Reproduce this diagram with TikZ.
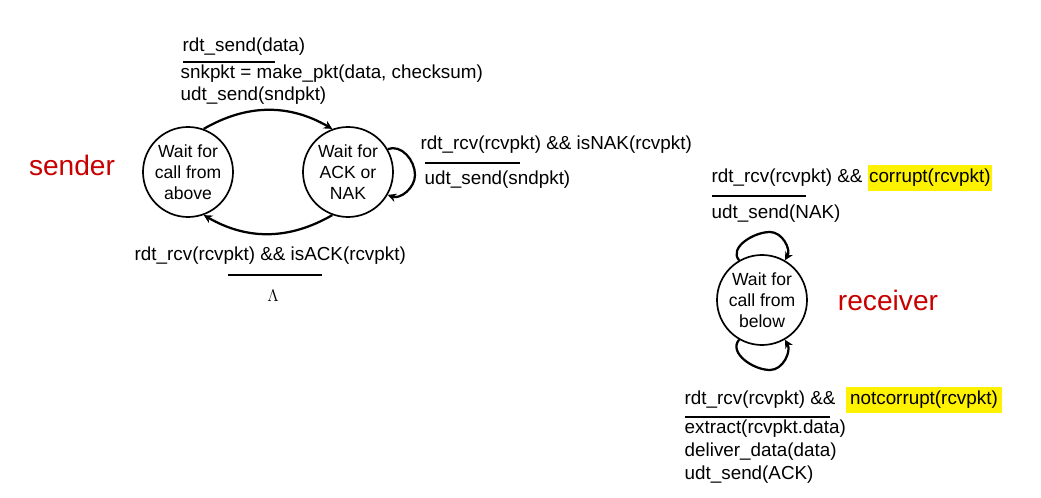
\documentclass[tikz,border=0pt]{standalone}
\usepackage{fontspec}
\setmainfont{Liberation Sans}
\usetikzlibrary{arrows.meta}
\begin{document}
\begin{tikzpicture}[x=0.025cm,y=-0.025cm,
  st/.style={circle,draw,line width=1.2pt,minimum size=2.25cm,align=center,font=\fontsize{12.5}{15}\selectfont,inner sep=0pt},
  lb/.style={anchor=west,font=\fontsize{13.4}{15}\selectfont,inner sep=1pt},
  red/.style={anchor=center,font=\fontsize{20}{24}\selectfont,text={rgb,255:red,200;green,0;blue,0}},
  tr/.style={line width=1.6pt,-{Stealth[length=6pt,width=6pt]}},
  bar/.style={line width=1.3pt},
  hl/.style={fill=yellow,inner sep=1pt}]
\useasboundingbox (0,0) rectangle (1041,498);
\node[st] (s1) at (188,172) {Wait for\\call from\\above};
\node[st] (s2) at (348,172) {Wait for\\ACK or\\NAK};
\node[st] (r1) at (762,300) {Wait for\\call from\\below};
\node[red] (snd) at (72,165) {sender};
\node[red] (rcv) at (888,300) {receiver};
% sender top
\node[lb] (t1) at (181,47) {rdt\_send(data)};
\draw[bar] (183,62) coordinate (b1a) -- (275,62) coordinate (b1b);
\node[lb] (t2) at (179,74) {snkpkt = make\_pkt(data, checksum)};
\node[lb] (t3) at (179,96) {udt\_send(sndpkt)};
\draw[tr] (s1.70) to[out=30,in=150] (s2.110);
\draw[tr] (s2.-110) to[out=-150,in=-30] (s1.-70);
\draw[tr] (s2.30) to[out=20,in=90] (415,175) coordinate (lp) to[out=-90,in=-20] (s2.-30);
\node[lb] (n1) at (419,145) {rdt\_rcv(rcvpkt) \&\& isNAK(rcvpkt)};
\draw[bar] (425,163) coordinate (b2a) -- (520,163) coordinate (b2b);
\node[lb] (n2) at (423,180) {udt\_send(sndpkt)};
\node[lb] (a1) at (133,256) {rdt\_rcv(rcvpkt) \&\& isACK(rcvpkt)};
\draw[bar] (228,275) coordinate (b3a) -- (322,275) coordinate (b3b);
\node[anchor=center,font=\fontsize{12}{14}\selectfont] (lam) at (273,296) {$\Lambda$};
% receiver
\draw[tr] (r1.120) to[out=130,in=180] (770,232) coordinate (rt) to[out=0,in=60] (r1.60);
\draw[tr] (r1.-120) to[out=-130,in=180] (770,370) coordinate (rb) to[out=0,in=-60] (r1.-60);
\node[lb] (c1) at (710,178) {rdt\_rcv(rcvpkt) \&\& \colorbox{yellow}{\kern-2pt corrupt(rcvpkt)\kern-2pt}};
\draw[bar] (712,196) coordinate (b4a) -- (806,196) coordinate (b4b);
\node[lb] (c2) at (710,214) {udt\_send(NAK)};
\node[lb] (d1) at (683,400) {rdt\_rcv(rcvpkt) \&\& \ \colorbox{yellow}{notcorrupt(rcvpkt)}};
\draw[bar] (685,417) coordinate (b5a) -- (830,417) coordinate (b5b);
\node[lb] (d2) at (683,429) {extract(rcvpkt.data)};
\node[lb] (d3) at (683,452) {deliver\_data(data)};
\node[lb] (d4) at (683,475) {udt\_send(ACK)};
\end{tikzpicture}
\end{document}
